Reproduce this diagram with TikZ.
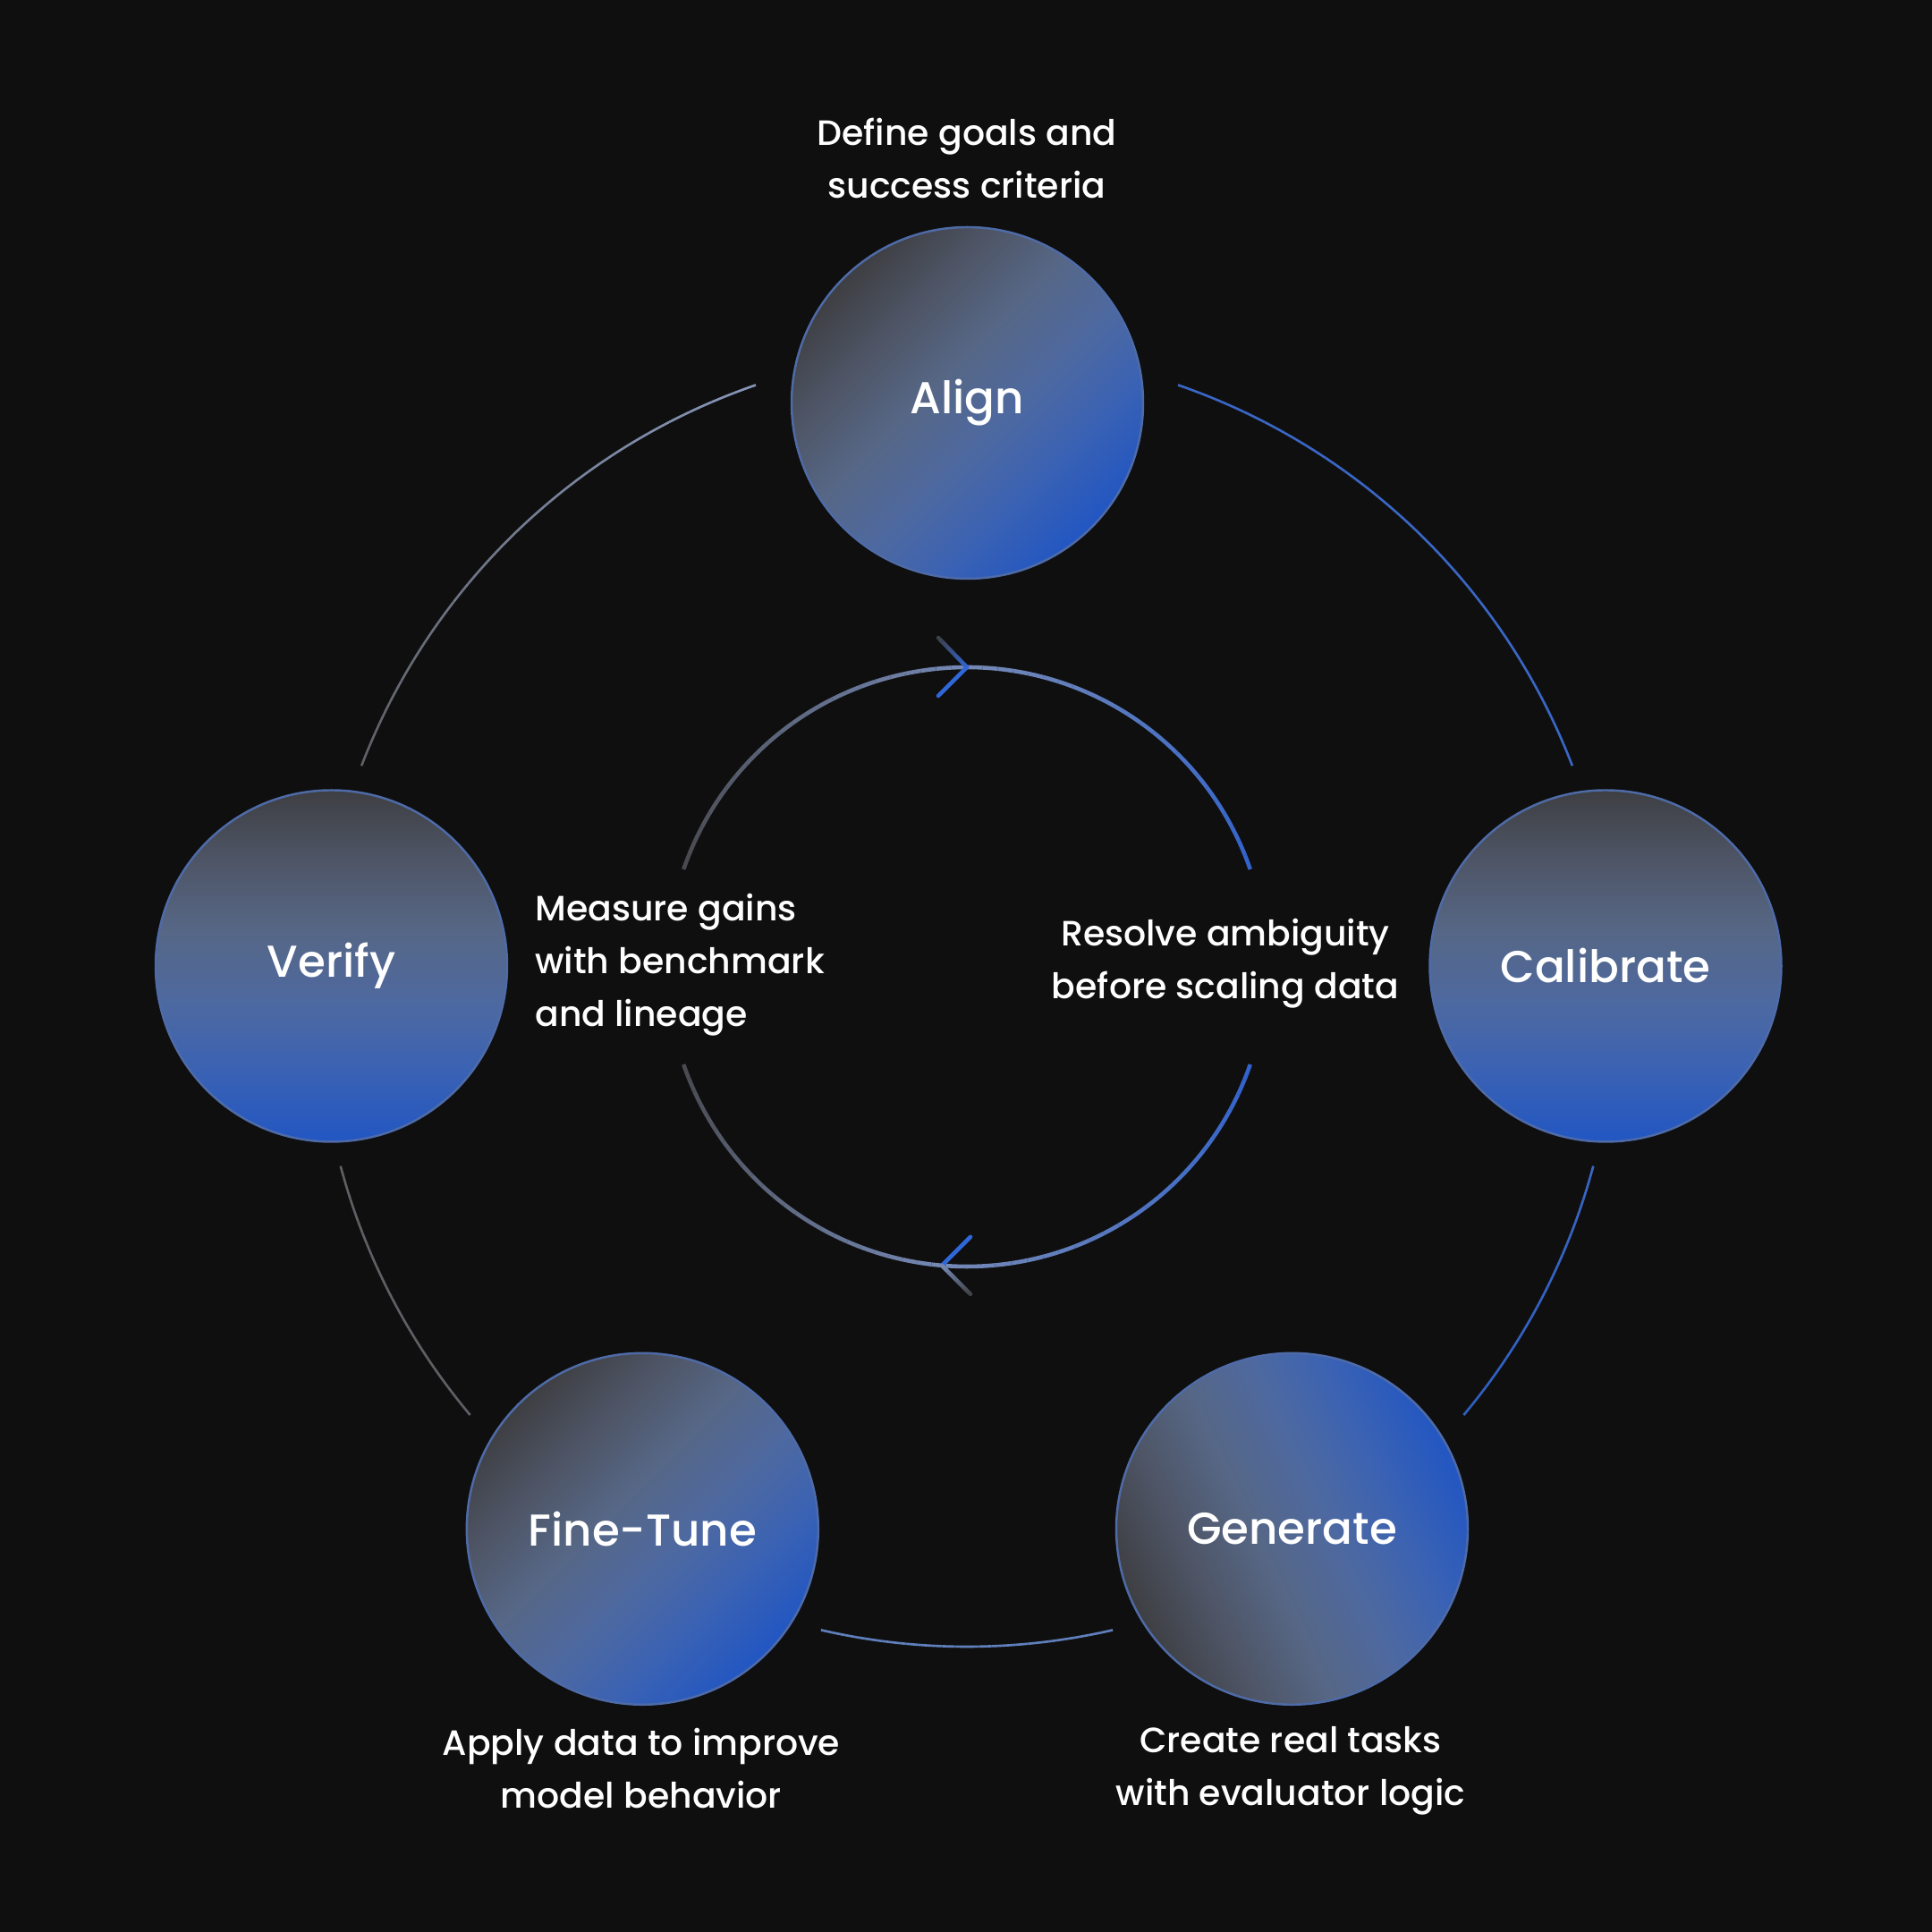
\documentclass[tikz,border=0pt]{standalone}
\usepackage{fontspec}
\setmainfont{Poppins Medium}
\usetikzlibrary{calc}

\definecolor{bgc}{HTML}{0F0F10}
\definecolor{stageA}{HTML}{2256C2}
\definecolor{stageB}{HTML}{3A62B4}
\definecolor{stageC}{HTML}{4E69A0}
\definecolor{stageD}{HTML}{566786}
\definecolor{stageE}{HTML}{4E5566}
\definecolor{stageF}{HTML}{3E3F43}
\definecolor{rimblue}{HTML}{4E6BA8}
\definecolor{ringgray}{HTML}{5F6064}
\definecolor{ringsteel}{HTML}{8797BA}
\definecolor{ringblue}{HTML}{3A66C4}
\definecolor{ringdeep}{HTML}{2F5FC0}
\definecolor{ringmid}{HTML}{5F80BC}
\definecolor{innergray}{HTML}{48494D}
\definecolor{innersteel}{HTML}{7589B5}
\definecolor{innerblue}{HTML}{3062CC}
\definecolor{arrowgray}{HTML}{3E3F42}
\definecolor{arrowblue}{HTML}{2F66D8}

% fill of the stage circles: blue at the bottom, dark grey at the top
\pgfdeclareverticalshading{stageshade}{100bp}{color(0bp)=(stageA); color(25bp)=(stageA);
  color(35bp)=(stageB); color(45bp)=(stageC); color(55bp)=(stageD); color(65bp)=(stageE);
  color(75bp)=(stageF); color(100bp)=(stageF)}

% arc drawn in small pieces so its colour runs from #5 to #6
\newcommand{\gradarc}[7]{%
  \foreach \k in {1,...,24}{%
    \pgfmathsetmacro\arcA{#3+(#4-#3)*(\k-1)/24}%
    \pgfmathsetmacro\arcB{#3+(#4-#3)*\k/24}%
    \pgfmathtruncatemacro\mixp{100*(\k-0.5)/24}%
    \draw[color=#6!\mixp!#5, line width=#7] ([shift={(\arcA:#2)}]#1) arc[start angle=\arcA, end angle=\arcB, radius=#2];
  }}
% straight line from #1 to #2, colour from #3 to #4
\newcommand{\gradline}[4]{%
  \foreach \k in {1,...,12}{%
    \pgfmathsetmacro\segA{(\k-1)/12}%
    \pgfmathsetmacro\segB{\k/12}%
    \pgfmathtruncatemacro\mixp{100*(\k-0.5)/12}%
    \draw[color=#4!\mixp!#3, line width=1.3pt, line cap=round] ($(#1)!\segA!(#2)$) -- ($(#1)!\segB!(#2)$);
  }}

\tikzset{
  stage/.style={circle, minimum size=3.93cm, draw=rimblue, line width=0.7pt,
    shade, shading=stageshade, text=white, font=\fontsize{14.2}{17}\selectfont},
  note/.style={text=white, font=\fontsize{11.2}{16.8}\selectfont, align=center},
}

\begin{document}
\begin{tikzpicture}
  % background
  \fill[bgc] (0,0) rectangle (21.6,21.6);
  \coordinate (O) at (10.81,10.44);
  \coordinate (I) at (10.81,10.79);
  % outer ring
  \gradarc{O}{7.25}{159}{109}{ringgray}{ringsteel}{0.75pt}
  \gradarc{O}{7.25}{71}{21}{ringblue}{ringblue}{0.75pt}
  \gradarc{O}{7.25}{-15}{-40}{ringblue}{ringdeep}{0.75pt}
  \gradarc{O}{7.25}{-77}{-103}{ringmid}{ringmid}{0.75pt}
  \gradarc{O}{7.25}{220}{195}{ringgray}{ringgray}{0.75pt}
  % inner ring
  \gradarc{I}{3.35}{161}{90}{innergray}{innersteel}{1.3pt}
  \gradarc{I}{3.35}{90}{19}{innersteel}{innerblue}{1.3pt}
  \gradarc{I}{3.35}{-19}{-94}{innerblue}{innersteel}{1.3pt}
  \gradarc{I}{3.35}{-94}{-161}{innersteel}{innergray}{1.3pt}
  % arrow heads
  \coordinate (tipT) at ([shift={(90:3.35)}]I);
  \coordinate (tipB) at ([shift={(-94.8:3.35)}]I);
  \gradline{$(tipT)+(-0.32,0.33)$}{tipT}{arrowgray}{innerblue}
  \gradline{$(tipT)+(-0.32,-0.32)$}{tipT}{arrowblue}{arrowblue}
  \gradline{$(tipB)+(0.32,0.32)$}{tipB}{arrowblue}{arrowblue}
  \gradline{$(tipB)+(0.32,-0.32)$}{tipB}{arrowgray}{innersteel}
  % stages
  \node[stage, shading angle=45] (align) at (10.815,17.095) {Align};
  \node[stage] (calibrate) at (17.95,10.80) {Calibrate};
  \node[stage] (verify) at (3.705,10.80) {Verify};
  \node[stage, shading angle=45] (finetune) at (7.183,4.507) {Fine-Tune};
  \node[stage, shading angle=115] (generate) at (14.445,4.507) {Generate};
  % notes
  \node[note] (alignNote) at (10.81,19.83) {Define goals and\\success criteria};
  \node[note] (calibrateNote) at (13.70,10.83) {Resolve ambiguity\\before scaling data};
  \node[note, align=left, anchor=west] (verifyNote) at (5.86,10.81) {Measure gains\\with benchmark\\and lineage};
  \node[note] (finetuneNote) at (7.17,1.83) {Apply data to improve\\model behavior};
  \node[note] (generateNote) at (14.43,1.80) {Create real tasks\\with evaluator logic};
\end{tikzpicture}
\end{document}
